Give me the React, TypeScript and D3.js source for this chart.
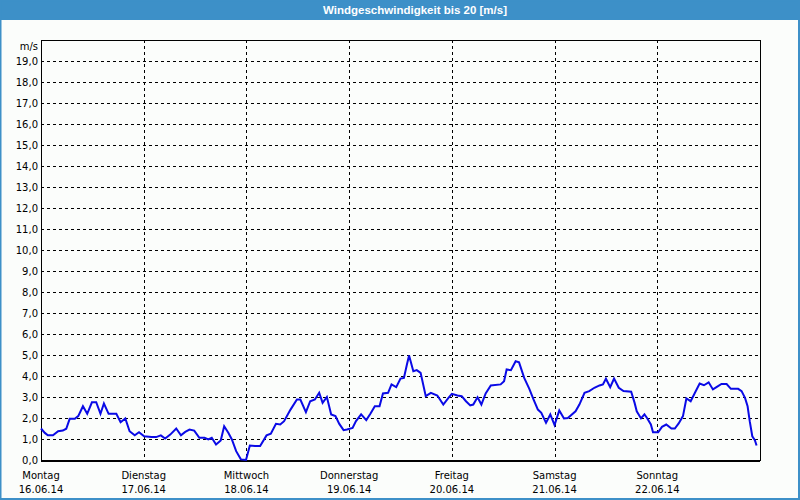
import React from "react";
import * as d3 from "d3";

// hours since Monday 16.06.14 00:00, and wind speed in m/s
const hours = [
  0, 0.9, 1.6, 2.8, 4.0, 5.1, 5.9, 6.7, 7.9, 8.7, 9.8, 10.8, 11.9, 12.9, 13.9, 14.7,
  15.8, 17.6, 18.6, 19.7, 20.7, 21.9, 22.9, 24.1, 25.8, 26.9, 28.0, 29.0, 30.2, 31.6,
  32.7, 33.7, 34.7, 35.8, 37.0, 38.2, 39.1, 39.9, 40.9, 42.0, 42.8, 43.8, 44.6, 45.6,
  46.7, 47.9, 48.8, 50.0, 51.2, 52.7, 53.7, 54.9, 55.9, 56.8, 58.3, 59.8, 60.6, 61.9,
  62.9, 64.0, 65.0, 65.8, 66.8, 67.8, 68.8, 69.7, 70.7, 71.5, 72.8, 73.6, 74.8, 76.0,
  77.0, 78.0, 79.1, 79.9, 81.1, 81.9, 83.0, 84.0, 84.8, 85.5, 86.0, 87.0, 87.8, 88.7,
  89.9, 91.1, 92.6, 94.0, 95.2, 96.0, 97.3, 98.3, 99.3, 100.3, 101.0, 102.0, 102.9,
  103.9, 105.1, 107.4, 108.2, 108.8, 109.8, 110.9, 111.7, 112.9, 114.1, 115.1, 116.1,
  116.9, 118.0, 119.0, 120.0, 121.1, 122.2, 123.1, 124.9, 125.8, 127.0, 128.1, 129.3,
  130.5, 131.3, 132.0, 133.0, 133.9, 135.0, 136.1, 137.9, 138.7, 139.2, 140.2, 141.0,
  141.6, 142.5, 143.0, 144.2, 145.1, 146.1, 147.3, 148.1, 149.0, 150.0, 150.8, 151.8,
  152.8, 153.9, 154.9, 156.0, 157.0, 158.2, 159.0, 160.2, 161.2, 162.9, 163.7, 164.5,
  165.1, 165.6, 166.2, 166.8, 167.2,
];
const speed = [
  1.5, 1.29, 1.18, 1.18, 1.37, 1.4, 1.49, 1.96, 1.96, 2.09, 2.56, 2.2, 2.75, 2.75, 2.2, 2.69,
  2.2, 2.2, 1.8, 1.98, 1.37, 1.18, 1.32, 1.13, 1.09, 1.09, 1.17, 1.02, 1.21, 1.5,
  1.18, 1.34, 1.45, 1.4, 1.06, 1.06, 0.98, 1.06, 0.74, 0.93, 1.61, 1.29, 0.98, 0.42,
  0.03, 0.0, 0.69, 0.67, 0.67, 1.17, 1.25, 1.72, 1.69, 1.85, 2.4, 2.88, 2.88, 2.28,
  2.8, 2.88, 3.2, 2.72, 3.0, 2.17, 2.09, 1.72, 1.42, 1.45, 1.53, 1.85, 2.17, 1.9,
  2.21, 2.56, 2.56, 3.17, 3.2, 3.6, 3.47, 3.88, 3.91, 4.55, 4.98, 4.23, 4.28, 4.15,
  3.04, 3.2, 3.07, 2.64, 2.96, 3.15, 3.07, 3.04, 2.8, 2.6, 2.64, 2.99, 2.64,
  3.17, 3.55, 3.6, 3.75, 4.31, 4.28, 4.7, 4.65, 3.91, 3.39, 2.88, 2.4,
  2.25, 1.77, 2.17, 1.66, 2.36, 1.98, 2.0, 2.32, 2.64, 3.2, 3.28, 3.44,
  3.55, 3.6, 3.87, 3.47, 3.88, 3.44, 3.28, 3.25, 2.72, 2.32, 1.98, 2.17,
  2.0, 1.69, 1.32, 1.32, 1.58, 1.69, 1.5, 1.5, 1.74, 2.09, 2.93, 2.8,
  3.2, 3.64, 3.56, 3.7, 3.36, 3.52, 3.62, 3.62, 3.39, 3.39, 3.28, 2.96,
  2.56, 1.85, 1.13, 0.94, 0.69,
];

const dayNames = ["Montag", "Dienstag", "Mittwoch", "Donnerstag", "Freitag", "Samstag", "Sonntag"];
const dayDates = ["16.06.14", "17.06.14", "18.06.14", "19.06.14", "20.06.14", "21.06.14", "22.06.14"];
const yTicks = d3.range(0, 20);

const title = "Windgeschwindigkeit bis 20 [m/s]";
const unit = "m/s";

const W = 800;
const H = 500;
const plot = { left: 41, right: 760, top: 40, bottom: 460 };
const font = "'DejaVu Sans', sans-serif";

const App: React.FC = () => {
  const x = d3.scaleLinear().domain([0, 168]).range([plot.left, plot.right]);
  const y = d3.scaleLinear().domain([0, 20]).range([plot.bottom, plot.top]);

  const points = hours.map((h, i) => ({ h, v: speed[i] }));
  const path = d3
    .line<{ h: number; v: number }>()
    .x((d) => x(d.h))
    .y((d) => y(d.v))(points);

  const fmt = (v: number) => v.toFixed(1).replace(".", ",");

  return (
    <svg
      width={W}
      height={H}
      style={{ position: "absolute", left: 0, top: 0, display: "block" }}
    >
      <rect x={0} y={0} width={W} height={H} fill="#fbfdfb" />
      <rect x={0} y={0} width={W} height={20} fill="#3d90c8" />
      <rect
        x={0.5}
        y={0.5}
        width={W - 1.5}
        height={H - 1.5}
        fill="none"
        stroke="#3d90c8"
        strokeWidth={2}
      />
      <text
        x={415}
        y={14}
        textAnchor="middle"
        fill="#ffffff"
        fontFamily="'Liberation Sans', sans-serif"
        fontWeight="bold"
        fontSize={11.5}
      >
        {title}
      </text>

      {/* horizontal grid */}
      {yTicks
        .filter((t) => t > 0)
        .map((t) => (
          <line
            key={"h" + t}
            x1={plot.left}
            x2={plot.right}
            y1={Math.round(y(t)) + 0.5}
            y2={Math.round(y(t)) + 0.5}
            stroke="#000"
            strokeDasharray="3,3"
            shapeRendering="crispEdges"
          />
        ))}

      {/* vertical grid */}
      {dayNames.slice(1).map((_, i) => (
        <line
          key={"v" + i}
          x1={Math.round(x((i + 1) * 24)) + 0.5}
          x2={Math.round(x((i + 1) * 24)) + 0.5}
          y1={plot.top}
          y2={plot.bottom + 2}
          stroke="#000"
          strokeDasharray="3,3"
          shapeRendering="crispEdges"
        />
      ))}

      <rect
        x={plot.left + 0.5}
        y={plot.top + 0.5}
        width={plot.right - plot.left}
        height={plot.bottom - plot.top}
        fill="none"
        stroke="#000"
        shapeRendering="crispEdges"
      />
      <line
        x1={plot.left}
        x2={plot.right}
        y1={plot.bottom + 1.5}
        y2={plot.bottom + 1.5}
        stroke="#000"
        shapeRendering="crispEdges"
      />

      {/* y labels */}
      {yTicks.map((t) => (
        <text
          key={"yl" + t}
          x={38}
          y={y(t)}
          dy="0.36em"
          textAnchor="end"
          fontFamily={font}
          fontSize={10}
          fill="#000"
        >
          {fmt(t)}
        </text>
      ))}
      <text x={38} y={50} textAnchor="end" fontFamily={font} fontSize={10} fill="#000">
        {unit}
      </text>

      {/* x labels */}
      {dayNames.map((d, i) => (
        <g key={"xl" + i}>
          <text
            x={x(i * 24)}
            y={479}
            textAnchor="middle"
            fontFamily={font}
            fontSize={10}
            fill="#000"
          >
            {d}
          </text>
          <text
            x={x(i * 24)}
            y={493}
            textAnchor="middle"
            fontFamily={font}
            fontSize={10}
            fill="#000"
          >
            {dayDates[i]}
          </text>
        </g>
      ))}

      <path d={path || ""} fill="none" stroke="#0a0ae6" strokeWidth={2} strokeLinejoin="miter" />
    </svg>
  );
};

export default App;
